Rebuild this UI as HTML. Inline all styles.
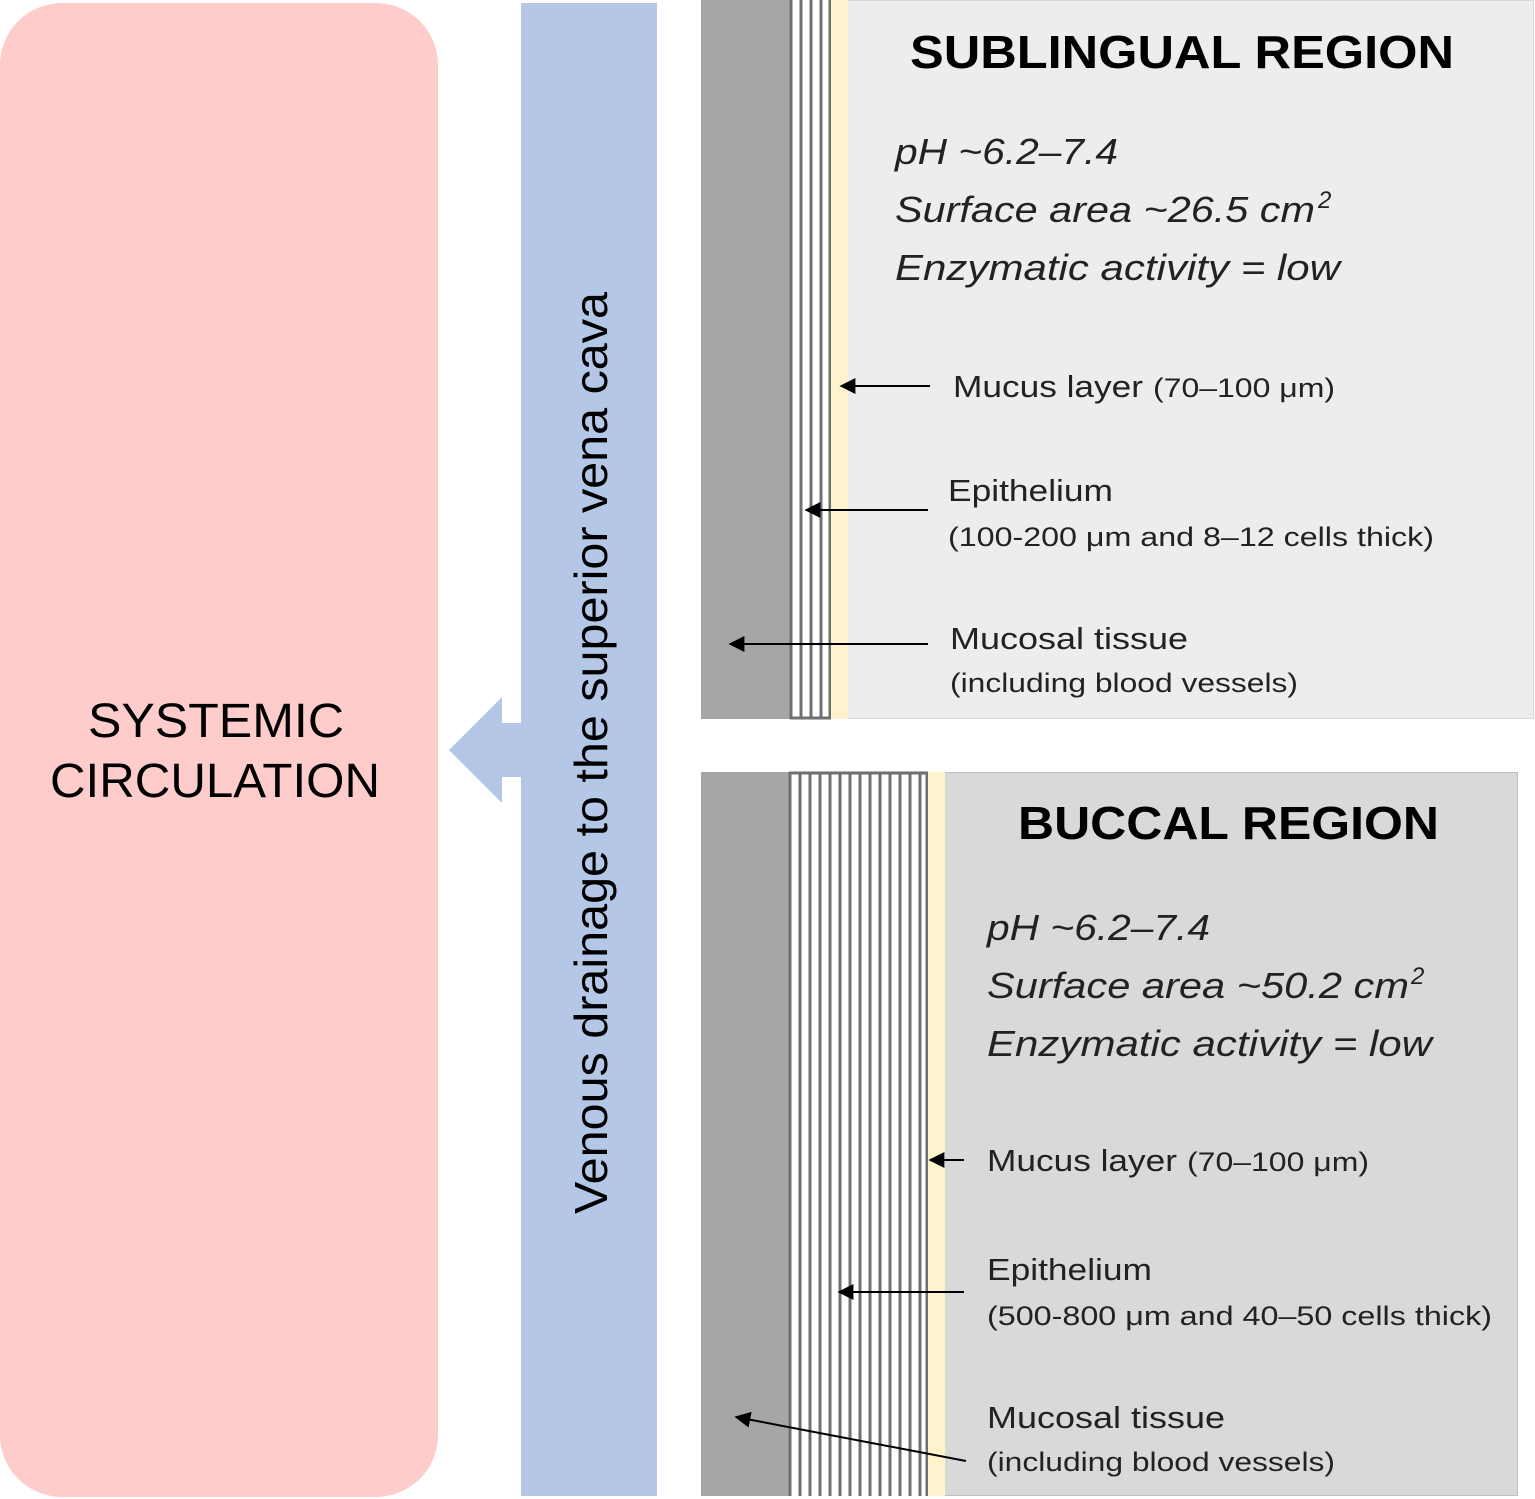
<!DOCTYPE html>
<html><head><meta charset="utf-8"><style>html,body{margin:0;padding:0;background:#fff}svg{display:block}</style></head>
<body>
<svg width="1535" height="1499" viewBox="0 0 1535 1499" xmlns="http://www.w3.org/2000/svg" font-family="Liberation Sans, sans-serif">
<defs>
<marker id="ah" viewBox="0 0 10 10" refX="9" refY="5" markerWidth="8" markerHeight="8" orient="auto-start-reverse"><path d="M0,0 L10,5 L0,10 z" fill="#000"/></marker>
</defs>
<rect x="0" y="3" width="438" height="1494" rx="62" fill="#ffcccc"/>
<text x="216" y="737" font-size="48" text-anchor="middle" textLength="256" lengthAdjust="spacingAndGlyphs">SYSTEMIC</text>
<text x="215" y="797" font-size="48" text-anchor="middle" textLength="330" lengthAdjust="spacingAndGlyphs">CIRCULATION</text>
<rect x="521" y="3" width="136" height="1493" fill="#b4c7e7"/>
<polygon points="449,750 502,697 502,723 522,723 522,777 502,777 502,803" fill="#b4c7e7"/>
<text transform="translate(607,1214) rotate(-90)" font-size="46" textLength="922" lengthAdjust="spacingAndGlyphs">Venous drainage to the superior vena cava</text>

<!-- Sublingual -->
<rect x="701.5" y="0.5" width="832" height="718" fill="#ededed" stroke="#d9d9d9"/>
<rect x="701" y="0" width="89" height="719" fill="#a6a6a6"/>
<rect x="790" y="0" width="41" height="719" fill="#fff"/>
<g stroke="#707070" stroke-width="3">
<line x1="791" y1="0" x2="791" y2="719"/><line x1="801" y1="0" x2="801" y2="719"/><line x1="811" y1="0" x2="811" y2="719"/><line x1="821" y1="0" x2="821" y2="719"/><line x1="830" y1="0" x2="830" y2="719"/>
<line x1="790" y1="718" x2="831" y2="718"/>
</g>
<rect x="831" y="0" width="17" height="719" fill="#fff2cc"/>
<text x="910" y="68" font-size="46" font-weight="bold" textLength="544" lengthAdjust="spacingAndGlyphs">SUBLINGUAL  REGION</text>
<g font-size="36" font-style="italic" fill="#222">
<text x="895" y="164" textLength="223" lengthAdjust="spacingAndGlyphs">pH ~6.2–7.4</text>
<text x="895" y="222" textLength="420" lengthAdjust="spacingAndGlyphs">Surface area ~26.5 cm</text>
<text x="1318" y="208" font-size="24">2</text>
<text x="895" y="280" textLength="445" lengthAdjust="spacingAndGlyphs">Enzymatic activity = low</text>
</g>
<g font-size="31" fill="#222">
<text x="953" y="397" textLength="190" lengthAdjust="spacingAndGlyphs">Mucus layer</text>
<text x="1153" y="397" font-size="27" textLength="182" lengthAdjust="spacingAndGlyphs">(70–100 μm)</text>
<text x="948" y="501" textLength="165" lengthAdjust="spacingAndGlyphs">Epithelium</text>
<text x="948" y="546" font-size="27" textLength="486" lengthAdjust="spacingAndGlyphs">(100-200 μm and 8–12 cells thick)</text>
<text x="950" y="649" textLength="238" lengthAdjust="spacingAndGlyphs">Mucosal tissue</text>
<text x="950" y="692" font-size="27" textLength="348" lengthAdjust="spacingAndGlyphs">(including blood vessels)</text>
</g>
<g stroke="#000" stroke-width="2">
<line x1="930" y1="386" x2="841" y2="386" marker-end="url(#ah)"/>
<line x1="928" y1="510" x2="806" y2="510" marker-end="url(#ah)"/>
<line x1="928" y1="644" x2="730" y2="644" marker-end="url(#ah)"/>
</g>

<!-- Buccal -->
<rect x="701.5" y="772.5" width="816" height="723" fill="#d9d9d9" stroke="#bfbfbf"/>
<rect x="701" y="772" width="88" height="724" fill="#a6a6a6"/>
<rect x="789" y="772" width="139" height="724" fill="#fff"/>
<g stroke="#707070" stroke-width="3">
<line x1="790" y1="772" x2="790" y2="1496"/><line x1="800" y1="772" x2="800" y2="1496"/><line x1="810" y1="772" x2="810" y2="1496"/><line x1="820" y1="772" x2="820" y2="1496"/><line x1="830" y1="772" x2="830" y2="1496"/><line x1="840" y1="772" x2="840" y2="1496"/><line x1="850" y1="772" x2="850" y2="1496"/><line x1="860" y1="772" x2="860" y2="1496"/><line x1="870" y1="772" x2="870" y2="1496"/><line x1="880" y1="772" x2="880" y2="1496"/><line x1="890" y1="772" x2="890" y2="1496"/><line x1="900" y1="772" x2="900" y2="1496"/><line x1="910" y1="772" x2="910" y2="1496"/><line x1="920" y1="772" x2="920" y2="1496"/><line x1="927" y1="772" x2="927" y2="1496"/>
<line x1="789" y1="773" x2="928" y2="773"/>
</g>
<rect x="928" y="772" width="17" height="724" fill="#fff2cc"/>
<text x="1018" y="839" font-size="46" font-weight="bold" textLength="421" lengthAdjust="spacingAndGlyphs">BUCCAL  REGION</text>
<g font-size="36" font-style="italic" fill="#222">
<text x="987" y="940" textLength="223" lengthAdjust="spacingAndGlyphs">pH ~6.2–7.4</text>
<text x="987" y="998" textLength="422" lengthAdjust="spacingAndGlyphs">Surface area ~50.2 cm</text>
<text x="1411" y="984" font-size="24">2</text>
<text x="987" y="1056" textLength="445" lengthAdjust="spacingAndGlyphs">Enzymatic activity = low</text>
</g>
<g font-size="31" fill="#222">
<text x="987" y="1171" textLength="190" lengthAdjust="spacingAndGlyphs">Mucus layer</text>
<text x="1187" y="1171" font-size="27" textLength="182" lengthAdjust="spacingAndGlyphs">(70–100 μm)</text>
<text x="987" y="1280" textLength="165" lengthAdjust="spacingAndGlyphs">Epithelium</text>
<text x="987" y="1325" font-size="27" textLength="505" lengthAdjust="spacingAndGlyphs">(500-800 μm and 40–50 cells thick)</text>
<text x="987" y="1428" textLength="238" lengthAdjust="spacingAndGlyphs">Mucosal tissue</text>
<text x="987" y="1471" font-size="27" textLength="348" lengthAdjust="spacingAndGlyphs">(including blood vessels)</text>
</g>
<g stroke="#000" stroke-width="2">
<line x1="964" y1="1160" x2="930" y2="1160" marker-end="url(#ah)"/>
<line x1="964" y1="1292" x2="839" y2="1292" marker-end="url(#ah)"/>
<line x1="966" y1="1461" x2="736" y2="1417" marker-end="url(#ah)"/>
</g>
</svg>
</body></html>
